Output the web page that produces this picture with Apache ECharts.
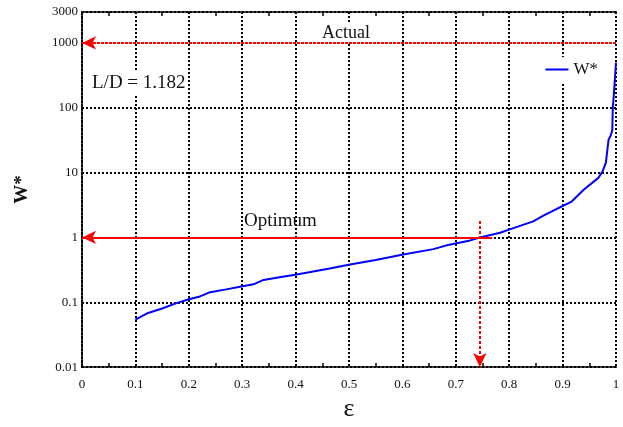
<!DOCTYPE html>
<html>
<head>
<meta charset="utf-8">
<script src="https://cdn.jsdelivr.net/npm/echarts@6/dist/echarts.min.js"></script>
<style>
  html, body { margin: 0; padding: 0; background: #fff; }
  #chart { width: 623px; height: 427px; }
</style>
</head>
<body>
<div id="chart"></div>
<script>
// curve W* vs epsilon
var eps = [0.1, 0.121, 0.15, 0.177, 0.202, 0.221, 0.24, 0.27, 0.296, 0.321, 0.34, 0.37, 0.402, 0.464,
    0.502, 0.55, 0.599, 0.658, 0.683, 0.727, 0.745, 0.783, 0.801, 0.845, 0.864, 0.901, 0.917, 0.94,
    0.967, 0.975, 0.981, 0.986, 0.99, 0.993, 0.994, 0.996, 1.0];
var wStar = [0.054, 0.067, 0.08, 0.097, 0.112, 0.123, 0.143, 0.158, 0.174, 0.189, 0.221, 0.243, 0.269, 0.333,
    0.383, 0.45, 0.54, 0.66, 0.755, 0.9, 1.0, 1.18, 1.33, 1.77, 2.17, 3.08, 3.58, 5.5,
    8.3, 10.5, 14.1, 32, 37, 45, 100, 160, 500];

// annotation arrows (start, end)
var actualLine = [[1, 1000], [0, 1000]];
var optimumLine = [[0.768, 1], [0, 1]];
var optimumDrop = [[0.745, 1.8], [0.745, 0.01]];

var xMin = 0, xMax = 1, xStep = 0.1;
var yMin = 0.01, yMax = 3000;

var serif = 'Liberation Serif';
var dotted = { color: '#000', width: 2, type: [2, 2] };

function arrow(seg, dash) {
    return [
        { coord: seg[0], lineStyle: { color: '#ff0000', width: 2, type: dash } },
        { coord: seg[1] }
    ];
}

var chart = echarts.init(document.getElementById('chart'));

var option = {
    animation: false,
    grid: { left: 82, right: 7, top: 12, bottom: 59 },
    legend: {
        right: 22, top: 57,
        data: [{ name: 'W*', icon: 'rect' }],
        itemWidth: 23, itemHeight: 2,
        backgroundColor: '#fff',
        padding: [4, 3, 4, 3],
        textStyle: { fontFamily: serif, fontSize: 17, color: '#111' }
    },
    xAxis: [{
        type: 'value', min: xMin, max: xMax, interval: xStep,
        name: 'ε', nameLocation: 'middle', nameGap: 28,
        nameTextStyle: { fontFamily: serif, fontSize: 26, color: '#111' },
        axisLine: { lineStyle: dotted },
        axisTick: { show: false, inside: true },
        minorTick: { show: true, splitNumber: 2, length: 4, lineStyle: { color: '#000', width: 1.5 } },
        axisLabel: {
            fontFamily: serif, fontSize: 13, color: '#111', margin: 11,
            formatter: function (v) { return String(+v.toFixed(2)); }
        },
        splitLine: { show: true, lineStyle: dotted }
    }, {
        type: 'value', position: 'top', min: xMin, max: xMax, interval: xStep,
        axisLine: { show: true, lineStyle: dotted },
        axisTick: { show: false, inside: true },
        minorTick: { show: true, splitNumber: 2, length: 4, lineStyle: { color: '#000', width: 1.5 } },
        axisLabel: { show: false },
        splitLine: { show: false }
    }],
    yAxis: {
        type: 'log', logBase: 10, min: yMin, max: yMax,
        name: 'W*', nameLocation: 'middle', nameGap: 50,
        nameTextStyle: { fontFamily: serif, fontSize: 19, fontWeight: 'bold', color: '#111' },
        axisLine: { show: true, lineStyle: dotted },
        axisTick: { show: false },
        axisLabel: {
            fontFamily: serif, fontSize: 13, color: '#111', margin: 4,
            formatter: function (v) { return String(+(+v).toPrecision(6)); }
        },
        splitLine: { show: true, lineStyle: dotted }
    },
    series: [{
        name: 'W*',
        type: 'line',
        showSymbol: false,
        color: '#0000ff',
        lineStyle: { width: 2, color: '#0000ff' },
        data: eps.map(function (e, i) { return [e, wStar[i]]; }),
        markLine: {
            silent: true,
            symbol: ['none', 'arrow'],
            symbolSize: [10, 14],
            label: { show: false },
            data: [
                arrow(actualLine, [3, 1]),
                arrow(optimumLine, 'solid'),
                arrow(optimumDrop, [3, 2])
            ]
        }
    }],
    graphic: [
        { type: 'text', left: 320, top: 24, z: 10,
          style: { text: 'Actual', font: '18px "Liberation Serif"', fill: '#111', backgroundColor: '#fff', padding: [0, 2] } },
        { type: 'text', left: 91, top: 72, z: 10,
          style: { text: 'L/D = 1.182', font: '19px "Liberation Serif"', fill: '#111', backgroundColor: '#fff', padding: [2, 1] } },
        { type: 'text', left: 244, top: 212, z: 10,
          style: { text: 'Optimum', font: '19px "Liberation Serif"', fill: '#111' } }
    ]
};

chart.setOption(option);
</script>
</body>
</html>
